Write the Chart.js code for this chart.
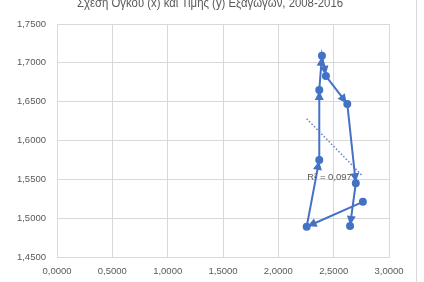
<!DOCTYPE html>
<html><head><meta charset="utf-8">
<script src="https://cdn.jsdelivr.net/npm/chart.js@4/dist/chart.umd.min.js"></script>
<style>html,body{margin:0;padding:0;background:#fff}#wrap{width:424px;height:282px}</style>
</head><body><div id="wrap"><canvas id="c" width="424" height="282"></canvas></div>
<script>
const title = "Σχέση Όγκου (x) και Τιμής (y) Εξαγωγών, 2008-2016";
const years = [2008,2009,2010,2011,2012,2013,2014,2015,2016];
const volumeX = [2.764,2.256,2.370,2.370,2.394,2.430,2.623,2.700,2.648];
const priceY = [1.521,1.489,1.575,1.665,1.709,1.683,1.647,1.545,1.490];
const xTicks = [0,0.5,1,1.5,2,2.5,3];
const yTicks = [1.45,1.5,1.55,1.6,1.65,1.7,1.75];
const r2Label = "R² = 0,097";

const blue = '#4472C4';
const grey = '#595959';
const fmt = v => Number(v).toFixed(4).replace('.', ',');

// linear regression from the data
const n = volumeX.length;
const mx = volumeX.reduce((a,b)=>a+b,0)/n, my = priceY.reduce((a,b)=>a+b,0)/n;
let sxy=0, sxx=0;
for (let i=0;i<n;i++){ sxy+=(volumeX[i]-mx)*(priceY[i]-my); sxx+=(volumeX[i]-mx)**2; }
const slope = sxy/sxx, icpt = my - slope*mx;
const xmin = Math.min(...volumeX), xmax = Math.max(...volumeX);
const trend = [{x:xmin,y:icpt+slope*xmin},{x:xmax,y:icpt+slope*xmax}];

const pts = volumeX.map((x,i)=>({x, y: priceY[i]}));

const extras = {
  id:'extras',
  beforeDraw(chart){
    const ctx = chart.ctx;
    ctx.save();
    ctx.fillStyle='#fff'; ctx.fillRect(0,0,chart.width,chart.height);
    ctx.strokeStyle='#d9d9d9'; ctx.lineWidth=1;
    ctx.beginPath(); ctx.moveTo(416.5,0); ctx.lineTo(416.5,282); ctx.stroke();
    ctx.restore();
  },
  afterDatasetsDraw(chart){
    const ctx = chart.ctx, xs = chart.scales.x, ys = chart.scales.y;
    ctx.save();
    // arrowheads at end of each segment
    ctx.fillStyle = blue;
    for (let i=1;i<n;i++){
      const x0=xs.getPixelForValue(volumeX[i-1]), y0=ys.getPixelForValue(priceY[i-1]);
      const x1=xs.getPixelForValue(volumeX[i]), y1=ys.getPixelForValue(priceY[i]);
      const a = Math.atan2(y1-y0, x1-x0);
      const tx = x1 - 1*Math.cos(a), ty = y1 - 1*Math.sin(a);
      const L=9, W=4.5;
      const bx = tx - L*Math.cos(a), by = ty - L*Math.sin(a);
      ctx.beginPath();
      ctx.moveTo(tx,ty);
      ctx.lineTo(bx + W*Math.sin(a), by - W*Math.cos(a));
      ctx.lineTo(bx - W*Math.sin(a), by + W*Math.cos(a));
      ctx.closePath(); ctx.fill();
    }
    // R² label
    const tx = xs.getPixelForValue(trend[1].x), ty = ys.getPixelForValue(trend[1].y);
    ctx.fillStyle = grey; ctx.font = '9.5px "Liberation Sans", Arial, sans-serif';
    ctx.textAlign='right'; ctx.textBaseline='middle';
    ctx.fillText(r2Label, tx-11, ty+1);
    // title (clipped at top)
    ctx.font = '13px "Liberation Sans", Arial, sans-serif';
    ctx.textAlign='center'; ctx.textBaseline='alphabetic';
    ctx.translate(210, 7); ctx.scale(0.875, 1);
    ctx.fillText(title, 0, 0);
    ctx.restore();
  }
};

new Chart(document.getElementById('c'), {
  type:'scatter',
  data:{ datasets:[
    { label:'trend', data: trend, showLine:true, borderColor:'#5b7fc7', borderWidth:1.5, borderDash:[1.5,2], pointRadius:0, order:2 },
    { label:'Volume vs Price', data: pts, showLine:true, borderColor:blue, backgroundColor:blue, borderWidth:2,
      pointRadius:3, pointHoverRadius:3, pointStyle:'circle', order:1 }
  ]},
  options:{
    responsive:false, animation:false, devicePixelRatio:1,
    layout:{ padding:{ left:0, right:35, top:24, bottom:0 } },
    plugins:{ legend:{display:false}, title:{display:false}, tooltip:{enabled:false} },
    scales:{
      x:{ type:'linear', min:0, max:3,
        afterBuildTicks: s => { s.ticks = xTicks.map(v=>({value:v})); },
        afterFit: s => { s.height = 25; },
        grid:{ color:'#d9d9d9', drawTicks:false },
        border:{ color:'#d9d9d9' },
        ticks:{ color:grey, font:{size:9.5, family:'"Liberation Sans", Arial, sans-serif'}, padding:9, maxRotation:0, callback: v=>fmt(v) } },
      y:{ type:'linear', min:1.45, max:1.75,
        afterBuildTicks: s => { s.ticks = yTicks.map(v=>({value:v})); },
        afterFit: s => { s.width = 57; },
        grid:{ color:'#d9d9d9', drawTicks:false },
        border:{ color:'#d9d9d9' },
        ticks:{ color:grey, font:{size:9.5, family:'"Liberation Sans", Arial, sans-serif'}, padding:11, callback: v=>fmt(v) } }
    }
  },
  plugins:[extras]
});
</script></body></html>
